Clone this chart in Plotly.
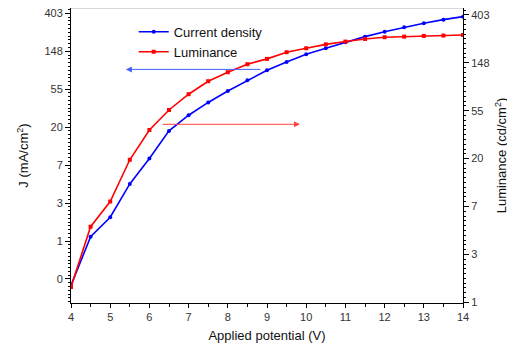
import numpy as np
import plotly.graph_objects as go

voltage = [4, 4.5, 5, 5.5, 6, 6.5, 7, 7.5, 8, 8.5, 9, 9.5, 10, 10.5, 11, 11.5, 12, 12.5, 13, 13.5, 14]
current_density = [0.31, 1.12, 1.87, 4.5, 8.8, 18.2, 27.5, 38.5, 52, 69, 90, 112, 137, 161, 188, 218, 248, 279, 310, 341, 369]
luminance = [1.38, 4.85, 8.2, 19.6, 36.5, 55.4, 77, 101, 122, 144, 161, 185, 201, 218, 231, 244, 253, 256, 260, 262, 265]

j_tick_exp = [-1, 0, 1, 2, 3, 4, 5, 6]
j_tick_text = ["0", "1", "3", "7", "20", "55", "148", "403"]
l_tick_exp = [0, 1, 2, 3, 4, 5, 6]
l_tick_text = ["1", "3", "7", "20", "55", "148", "403"]

FONT = "Liberation Sans, Arial, sans-serif"
TICKC = "#333333"

fig = go.Figure()
fig.add_trace(go.Scatter(x=voltage, y=current_density, name="Current density",
                         mode="lines+markers", line=dict(color="#0000ff", width=1.6),
                         marker=dict(color="#0000ff", size=4), yaxis="y"))
fig.add_trace(go.Scatter(x=voltage, y=luminance, name="Luminance",
                         mode="lines+markers", line=dict(color="#ff0000", width=1.6),
                         marker=dict(color="#ff0000", size=4, symbol="square"), yaxis="y2"))

def minor_vals(lo, hi):
    vals = []
    for k in range(lo, hi):
        for i in range(1, 10):
            vals.append(float(np.exp(k + i / 10)))
    return vals

# the page body adds an 8px offset; margins compensate for it
fig.update_layout(
    width=515, height=352,
    margin=dict(l=63, r=60, t=0, b=57, autoexpand=False),
    paper_bgcolor="white", plot_bgcolor="white",
    font=dict(family=FONT, size=11, color=TICKC),
    showlegend=True,
    legend=dict(x=0.16, y=0.97, xanchor="left", yanchor="top", bgcolor="rgba(0,0,0,0)",
                font=dict(size=13, color="#111111"), tracegroupgap=0, itemwidth=30),
    xaxis=dict(range=[4, 14], tickmode="array", tickvals=list(range(4, 15)), automargin=False,
               showline=True, linecolor="black", linewidth=1, mirror=False,
               ticks="outside", ticklen=4, tickcolor="black", showgrid=False, zeroline=False,
               minor=dict(tickmode="array", tickvals=[v + 0.5 for v in range(4, 14)], ticklen=3, ticks="outside", tickcolor="black"),
               title=dict(text="Applied potential (V)", font=dict(size=13, color="#111111"), standoff=8),
               tickfont=dict(size=11, color=TICKC)),
    yaxis=dict(type="log", range=[-0.709, 2.666], tickmode="array", automargin=False,
               ticklabeloverflow="allow",
               tickvals=[float(np.exp(k)) for k in j_tick_exp], ticktext=j_tick_text,
               showline=True, linecolor="black", linewidth=1, ticks="outside", ticklen=5,
               tickcolor="black", showgrid=False, zeroline=False,
               minor=dict(tickmode="array", tickvals=minor_vals(-2, 7), ticklen=2, ticks="outside", tickcolor="black"),
               title=dict(text="J (mA/cm<sup>2</sup>)", font=dict(size=13, color="#111111"), standoff=12),
               tickfont=dict(size=11, color=TICKC)),
    yaxis2=dict(type="log", range=[-0.006, 2.668], overlaying="y", side="right", tickmode="array",
                automargin=False, ticklabeloverflow="allow",
                tickvals=[float(np.exp(k)) for k in l_tick_exp], ticktext=l_tick_text,
                showline=True, linecolor="black", linewidth=1, ticks="outside", ticklen=5,
                tickcolor="black", showgrid=False, zeroline=False,
                minor=dict(tickmode="array", tickvals=minor_vals(0, 7), ticklen=2, ticks="outside", tickcolor="black"),
                title=dict(text="Luminance (cd/cm<sup>2</sup>)", font=dict(size=13, color="#111111"), standoff=8),
                tickfont=dict(size=11, color=TICKC)),
)

# top frame
fig.add_shape(type="line", xref="paper", yref="paper", x0=0, x1=1, y0=1, y1=1,
              line=dict(color="#b0b0b0", width=1))

# arrows
fig.add_annotation(x=5.4, y=np.log10(92), ax=8.87, ay=np.log10(92), xref="x", yref="y",
                   axref="x", ayref="y", showarrow=True, arrowhead=2, arrowsize=1.2,
                   arrowwidth=1, arrowcolor="#4060ff", text="")
fig.add_annotation(x=9.84, y=np.log10(41.1), ax=6.3, ay=np.log10(41.1), xref="x", yref="y2",
                   axref="x", ayref="y2", showarrow=True, arrowhead=2, arrowsize=1.2,
                   arrowwidth=1, arrowcolor="#ff4040", text="")

fig.write_html("out.html")
